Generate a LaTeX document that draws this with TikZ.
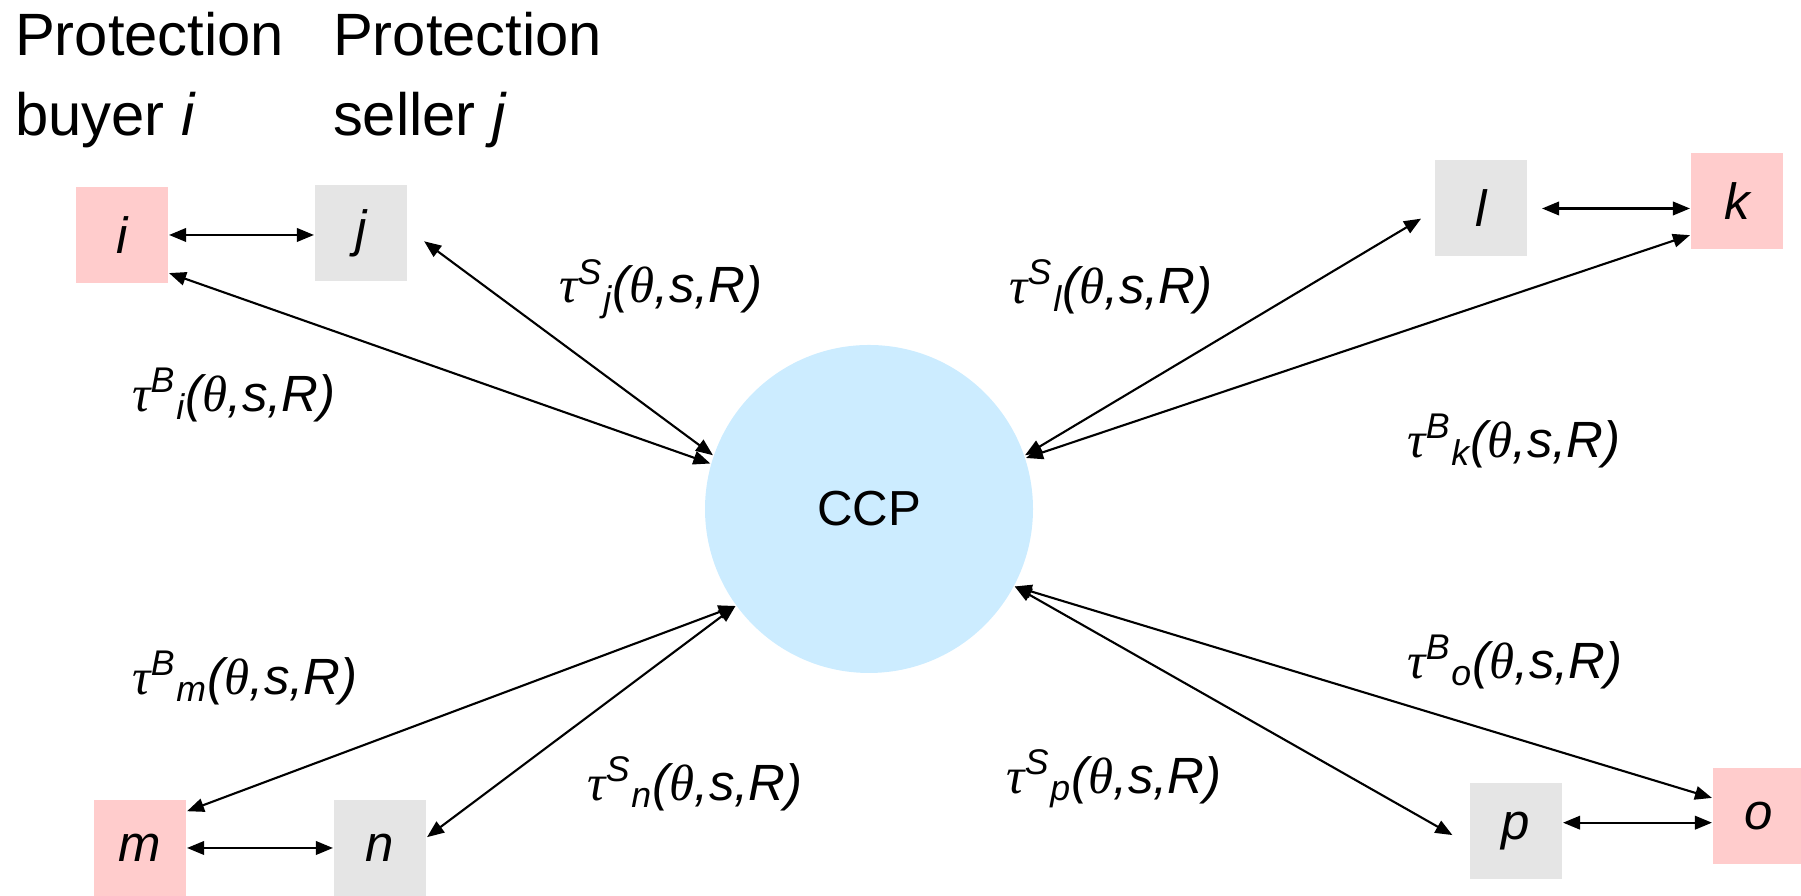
\documentclass[tikz,border=0pt]{standalone}
\usepackage{fontspec}
\setmainfont{Liberation Sans}
\newfontfamily\grk{Liberation Serif}
\usetikzlibrary{arrows.meta}
\definecolor{buyerpink}{RGB}{255,204,204}
\definecolor{sellergray}{RGB}{229,229,229}
\definecolor{ccpblue}{RGB}{204,236,255}
\newcommand{\tfun}[2]{{\grk τ}\textsuperscript{#1}\textsubscript{#2}({\grk θ},s,R)}

\begin{document}
\begin{tikzpicture}[>={Triangle[length=1.7mm,width=1.35mm]}, line width=0.6pt,
    party/.style={minimum width=0.92cm, minimum height=0.96cm, inner sep=0pt, font=\fontsize{14.5}{17}\selectfont\itshape},
    buyer/.style={party, fill=buyerpink},
    seller/.style={party, fill=sellergray},
    hub/.style={circle, fill=ccpblue, minimum size=3.28cm, inner sep=0pt, font=\fontsize{14}{17}\selectfont},
    rate/.style={font=\fontsize{14.5}{17}\selectfont\itshape, inner sep=0pt},
    heading/.style={align=left, anchor=base west, inner sep=0pt, font=\fontsize{17}{22.8}\selectfont}]
    \useasboundingbox (0,0) rectangle (18.01,8.96);

    % Column headings
    \node[heading] (hbuy) at (0.14,7.60) {Protection\\buyer \textit{i}};
    \node[heading] (hsell) at (3.32,7.60) {Protection\\seller \textit{j}};

    % Central counterparty
    \node[hub] (ccp) at (8.69,3.87) {CCP};

    % Buyer and seller pairs
    \node[buyer] (i) at (1.22,6.61) {i};
    \node[seller] (j) at (3.61,6.625) {j};
    \node[seller] (l) at (14.81,6.875) {l};
    \node[buyer] (k) at (17.37,6.95) {k};
    \node[buyer] (m) at (1.40,0.48) {m};
    \node[seller] (n) at (3.80,0.48) {n};
    \node[seller] (p) at (15.16,0.65) {p};
    \node[buyer] (o) at (17.59,0.80) {o};

    % Transfers to and from the CCP
    \node[rate] (ti) at (2.34,5.01) {\tfun{B}{i}};
    \node[rate] (tj) at (6.61,6.07) {\tfun{S}{j}};
    \node[rate] (tl) at (11.11,6.09) {\tfun{S}{l}};
    \node[rate] (tk) at (15.14,4.55) {\tfun{B}{k}};
    \node[rate] (tm) at (2.45,2.18) {\tfun{B}{m}};
    \node[rate] (tn) at (6.95,1.12) {\tfun{S}{n}};
    \node[rate] (to) at (15.15,2.34) {\tfun{B}{o}};
    \node[rate] (tp) at (11.14,1.17) {\tfun{S}{p}};

    \path[<->]
    % Bilateral contracts
    (i.east) edge (i.east -| j.west)
    (l.east) edge[shorten <=0.14cm] (l.east -| k.west)
    (m.east) edge (m.east -| n.west)
    (p.10) edge (p.10 -| o.west)
    % Links to the CCP
    (i.-39) edge (ccp.164)
    (j.5) edge[shorten <=0.2cm] (ccp.161.5)
    (l.183) edge[shorten <=0.15cm] (ccp.19)
    (k.216) edge (ccp.18)
    (m.38) edge (ccp.216)
    (n.13) edge (ccp.216)
    (p.196) edge[shorten <=0.19cm] (ccp.-28)
    (o.159) edge (ccp.-28);
\end{tikzpicture}
\end{document}
